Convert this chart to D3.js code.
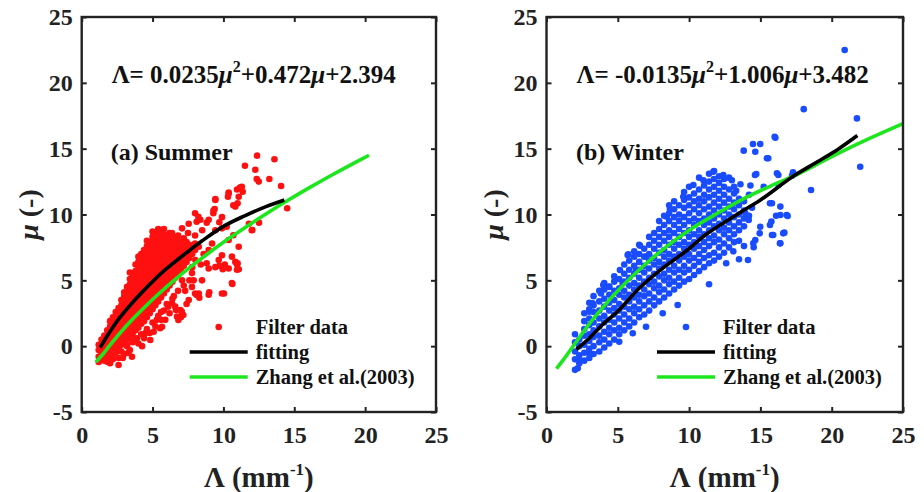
<!DOCTYPE html>
<html><head><meta charset="utf-8">
<script src="https://cdn.jsdelivr.net/npm/d3@7"></script>
<style>body{margin:0;background:#fff}svg{display:block} text{font-family:"Liberation Serif","Times New Roman",serif;}</style>
</head><body><svg id="c" width="924" height="492"></svg>
<script>
// ---------- data ----------
const xTicks = [0, 5, 10, 15, 20, 25];
const yTicks = [-5, 0, 5, 10, 15, 20, 25];
const legendLabels = ["Filter data", "fitting", "Zhang et al.(2003)"];

// Summer: dense cloud, column by column [Λ, [μ ...]]
const summerCloud = [
[1.2,[-1.2,-0.8,-0.3,0.1]],
[1.4,[-1.0,-0.5,0.0,0.5]],
[1.6,[-1.1,-0.7,-0.2,0.3,0.8]],
[1.8,[-0.9,-0.4,0.1,0.6,1.2]],
[2.0,[-1.3,-0.6,-0.1,0.4,0.9,1.5,1.9]],
[2.2,[-0.8,-0.3,0.2,0.7,1.2,1.7,2.2]],
[2.4,[-0.5,0.0,0.5,1.0,1.5,2.0,2.6]],
[2.6,[-0.9,-0.2,0.3,0.8,1.3,1.8,2.3,2.9]],
[2.8,[-0.4,0.1,0.6,1.1,1.6,2.1,2.6,3.1,3.5]],
[3.0,[-0.6,0.3,0.8,1.3,1.8,2.3,2.8,3.3,3.8,4.1]],
[3.2,[0.0,0.5,1.0,1.5,2.0,2.5,3.0,3.5,4.0,4.5]],
[3.4,[-0.3,0.7,1.2,1.7,2.2,2.7,3.2,3.7,4.2,4.7,5.1]],
[3.6,[0.3,1.0,1.5,2.0,2.5,3.0,3.5,4.0,4.5,5.0,5.5]],
[3.8,[0.6,1.2,1.7,2.2,2.7,3.2,3.7,4.2,4.7,5.2,5.7,6.2]],
[4.0,[0.2,1.4,1.9,2.4,2.9,3.4,3.9,4.4,4.9,5.4,5.9,6.4]],
[4.2,[0.9,1.7,2.2,2.7,3.2,3.7,4.2,4.7,5.2,5.7,6.2,6.7,7.0]],
[4.4,[0.6,1.9,2.4,2.9,3.4,3.9,4.4,4.9,5.4,5.9,6.4,6.9,7.3]],
[4.6,[1.3,2.2,2.7,3.2,3.7,4.2,4.7,5.2,5.7,6.2,6.7,7.2,7.6]],
[4.8,[1.0,2.5,3.0,3.5,4.0,4.5,5.0,5.5,6.0,6.5,7.0,7.5,7.9]],
[5.0,[1.8,2.8,3.3,3.8,4.3,4.8,5.3,5.8,6.3,6.8,7.3,7.8,8.3]],
[5.2,[1.5,3.1,3.6,4.1,4.6,5.1,5.6,6.1,6.6,7.1,7.6,8.1,8.6]],
[5.4,[2.3,3.4,3.9,4.4,4.9,5.4,5.9,6.4,6.9,7.4,7.9,8.4,8.9]],
[5.6,[2.0,3.7,4.2,4.7,5.2,5.7,6.2,6.7,7.2,7.7,8.2,8.7]],
[5.8,[2.7,4.0,4.5,5.0,5.5,6.0,6.5,7.0,7.5,8.0,8.5,8.9]],
[6.0,[3.2,4.3,4.8,5.3,5.8,6.3,6.8,7.3,7.8,8.3]],
[6.2,[2.5,4.6,5.1,5.6,6.1,6.6,7.1,7.6,8.1,8.6]],
[6.4,[3.6,4.9,5.4,5.9,6.4,6.9,7.4,7.9,8.3]],
[6.6,[3.0,5.2,5.7,6.2,6.7,7.2,7.7,8.1]],
[6.8,[4.2,5.5,6.0,6.5,7.0,7.5,8.0]],
[7.0,[2.2,5.8,6.3,6.8,7.3,7.8]],
[7.2,[4.6,6.1,6.6,7.1,7.6,8.2]],
[7.4,[3.2,6.4,6.9,7.4,7.9]],
[7.6,[5.0,6.7,7.2,7.7]],
[7.8,[6.0,7.0,7.5]],
[8.0,[4.0,7.3,7.8]]
];
// Summer: scattered points [Λ, μ]
const summerScatter = [
[1.79,-1.18],[2.6,-1.43],[3.55,-0.8],[3.2,0.1],[4.26,0.0],[4.84,0.47],[5.08,1.1],[5.67,1.48],[5.9,2.0],
[6.73,2.24],[6.96,2.75],[6.37,3.26],[7.55,3.5],[8.26,4.0],[8.96,3.9],[9.9,4.0],[10.6,4.8],[7.78,4.5],
[8.49,5.0],[9.43,6.0],[10.1,6.2],[10.37,5.9],[10.96,5.8],[10.84,6.4],[8.96,5.9],[9.67,6.55],[7.78,5.55],
[7.08,5.0],[8.0,10.1],[8.37,9.6],[9.43,11.1],[9.3,10.3],[10.37,11.6],[10.96,11.9],[11.3,12.1],[10.7,10.7],
[9.9,9.8],[8.96,9.6],[7.55,9.3],[7.08,8.95],[6.37,8.6],[8.5,8.8],[9.43,8.8],[9.9,8.95],[12.0,8.8],
[11.8,9.3],[10.37,8.06],[11.08,7.55],[8.26,7.55],[8.96,7.3],[9.9,6.9],[10.6,6.8],[10.96,6.2],[8.02,6.55],
[12.37,14.47],[13.6,14.2],[11.52,13.7],[12.25,13.4],[12.35,12.7],[12.49,12.5],[13.24,12.7],[14.07,12.16],
[14.5,10.47],[11.17,12.04],[11.36,11.73],[11.08,11.35],[11.0,10.85],[10.84,10.6],[10.37,11.66],[10.32,11.35],
[9.43,11.18],[9.38,10.42],[9.29,10.09],[8.23,9.83],[8.11,9.45],[8.82,9.38],[9.71,9.41],[10.23,9.07],
[10.7,8.42],[12.04,8.82],[12.51,9.38],[11.0,6.3],[11.08,5.84],[10.63,4.72],[10.04,4.0],[9.0,4.09],
[9.71,6.11],[9.95,5.84],[8.82,6.3],[8.11,3.89],[8.3,3.68],[6.82,1.99],[7.17,2.37],[7.06,2.62],[6.65,2.75],
[5.53,1.36],[2.2,-1.0],[2.9,-0.9],[3.3,-0.5],[3.9,0.6],[4.5,1.0],[5.3,2.0],[5.6,2.6],[6.1,3.0],[6.5,3.8],
[7.3,4.2],[7.9,5.0],[8.4,6.2],[8.6,7.0],[9.2,7.8],[7.5,8.6],[8.0,8.4],[6.8,8.4],[5.0,8.7],[4.6,8.0],
[4.0,6.8],[3.4,5.6]
];
// Summer fitting curve (Λ, μ)
const summerFitL  = [1.3, 2.5, 3.7, 5.0, 6.0, 7.4, 8.5, 10.0, 11.5, 13.0, 14.3];
const summerFitMu = [-0.1, 1.9, 3.45, 4.9, 5.9, 7.1, 8.0, 9.1, 9.9, 10.6, 11.1];
// Summer Zhang et al. (2003) curve
const summerZhL  = [1.0, 1.58, 1.94, 2.71, 3.55, 4.47, 5.46, 6.52, 7.66, 8.87, 10.15, 11.51, 12.94, 14.44, 16.01, 17.66, 19.38, 20.27];
const summerZhMu = [-1.2, -0.5, 0, 1, 2, 3, 4, 5, 6, 7, 8, 9, 10, 11, 12, 13, 14, 14.5];

// Winter: dense cloud columns
const winterCloud = [
[2.0,[-1.8,-1.0,-0.4,0.3,0.9]],
[2.3,[-1.3,-0.7,0.0,0.5]],
[2.65,[-1.1,-0.5,0.1,0.8,1.3,1.9,2.5]],
[3.0,[-0.9,-0.2,0.4,0.9,1.6,2.1,2.8,3.3]],
[3.3,[-0.6,0.0,0.7,1.2,1.8,2.6,3.1,3.8]],
[3.7,[-0.4,0.3,0.8,1.5,2.1,2.7,3.4,4.2]],
[4.05,[-0.1,0.5,1.1,1.8,2.3,3.0,3.6,4.3,4.8]],
[4.4,[0.2,0.9,1.4,2.0,2.7,3.3,3.9,4.5]],
[4.75,[0.5,1.2,1.8,2.4,2.9,3.5,4.2,4.9,5.3]],
[5.1,[0.9,1.4,2.1,2.7,3.2,3.9,4.4,5.1]],
[5.45,[1.2,1.8,2.4,3.0,3.7,4.2,4.9,5.5,6.2]],
[5.8,[1.5,2.1,2.8,3.4,3.9,4.6,5.2,5.8,6.5]],
[6.15,[1.8,2.5,3.0,3.7,4.3,4.8,5.5,6.1,6.8,7.2]],
[6.5,[2.2,2.8,3.4,3.9,4.6,5.2,5.8,6.4,7.0,7.7]],
[6.85,[2.4,3.1,3.8,4.3,4.9,5.6,6.1,6.8,7.4]],
[7.2,[2.7,3.4,4.0,4.7,5.2,5.9,6.5,7.0,7.7,8.3]],
[7.55,[3.1,3.7,4.4,4.9,5.5,6.2,6.7,7.4,8.0,8.6]],
[7.9,[3.4,4.1,4.6,5.3,5.9,6.4,7.1,7.7,8.3,8.9,9.5]],
[8.25,[3.7,4.3,5.0,5.5,6.2,6.8,7.3,8.0,8.6,9.2,9.9]],
[8.6,[4.0,4.7,5.2,5.8,6.5,7.0,7.7,8.3,8.8,9.5,10.1,10.7]],
[8.95,[4.3,4.9,5.6,6.1,6.8,7.4,7.9,8.6,9.2,9.8,10.4,11.0]],
[9.3,[4.6,5.2,5.8,6.5,7.0,7.7,8.3,8.9,9.5,10.0,10.7]],
[9.65,[4.9,5.6,6.1,6.8,7.4,7.9,8.6,9.2,9.8,10.5,11.1,11.7]],
[10.0,[5.1,5.8,6.5,7.0,7.7,8.3,8.8,9.5,10.1,10.7,11.3,12.1]],
[10.35,[5.4,6.1,6.7,7.4,7.9,8.5,9.2,9.7,10.4,11.0,11.6]],
[10.7,[5.7,6.4,7.0,7.6,8.3,8.8,9.5,10.1,10.7,11.2,11.9,12.8]],
[11.05,[6.0,6.7,7.3,7.9,8.5,9.2,9.7,10.4,11.0,11.5,12.2]],
[11.4,[4.7,6.3,6.9,7.6,8.2,8.8,9.4,10.0,10.6,11.3,11.9,12.5,13.1]],
[11.75,[6.5,7.1,7.9,8.4,9.1,9.7,10.3,10.9,11.5,12.1,12.7,13.3]],
[12.1,[6.8,7.5,8.1,8.8,9.3,10.0,10.6,11.2,11.8,12.4,12.9]],
[12.45,[7.1,7.8,8.5,9.0,9.7,10.3,10.9,11.5,12.1,12.7]],
[12.8,[7.5,8.2,8.8,9.4,10.0,10.6,11.2,11.9,12.8]],
[13.15,[7.9,8.5,9.1,9.8,10.4,10.9,11.6,12.1]],
[13.5,[6.6,8.8,9.4,10.0,10.7,11.2]],
[13.85,[7.6,9.1,9.7,10.3,11.0]]
];
const winterScatter = [
[20.91,22.49],[18.04,18.0],[21.77,17.3],[22.0,13.63],[18.55,11.86],[17.29,13.2],[17.22,12.95],[16.16,13.13],
[16.05,15.83],[15.46,14.27],[13.83,14.85],[14.48,15.35],[14.99,15.35],[14.64,14.77],[14.71,13.07],[15.23,12.11],
[16.28,12.24],[15.81,10.85],[16.4,10.6],[15.77,9.46],[16.4,9.96],[16.91,9.89],[15.81,8.44],[16.68,8.62],
[16.4,7.81],[14.95,8.57],[14.99,9.07],[14.64,8.06],[14.53,7.51],[14.13,6.54],[14.18,9.58],[13.94,10.09],
[14.41,10.52],[3.98,4.65],[5.15,5.79],[6.56,7.63],[8.43,9.83],[8.66,10.4],[9.59,11.35],[10.3,12.24],
[11.0,12.6],[11.7,13.25],[12.4,13.0],[13.0,12.6],[15.55,14.27],[14.62,13.0],[16.0,15.9],[16.26,13.0],
[15.67,10.85],[16.1,9.9],[16.84,9.96],[15.67,9.2],[15.9,8.44],[16.6,8.57],[16.37,7.81],[14.5,7.81],
[2.19,-1.68],[2.3,-1.05],[3.0,-0.54],[5.1,0.34],[6.05,0.98],[6.98,1.48],[8.15,2.5],[9.2,3.13],[3.0,2.62],
[3.24,3.26],[3.82,4.0],[4.4,4.52],[5.34,4.78],[5.69,6.92],[6.28,5.79],[6.98,6.8],[5.74,6.98],
[13.3,11.8],[13.6,12.3],[14.2,11.5],[14.3,12.2],[13.1,7.2],[12.6,6.3],[13.5,8.0],[14.2,9.9]
];
const winterFitL  = [2.1, 3.0, 4.0, 5.0, 6.5, 8.0, 10.0, 11.2, 13.5, 15.0, 17.3, 19.0, 20.5, 21.8];
const winterFitMu = [-0.25, 0.6, 1.7, 2.65, 4.4, 5.8, 7.4, 8.5, 10.1, 11.1, 12.9, 14.0, 15.0, 16.0];
const winterZhL  = [0.7, 1.2, 2.0, 3.0, 4.0, 5.0, 6.5, 8.0, 10.0, 12.0, 14.0, 16.0, 17.5, 20.0, 22.5, 25.0];
const winterZhMu = [-1.7, -1.0, 0.2, 1.7, 3.0, 4.2, 5.8, 7.2, 8.8, 10.1, 11.3, 12.3, 13.0, 14.4, 15.7, 16.9];

// ---------- drawing ----------
const FONT = '"Liberation Serif", "Times New Roman", serif';
const svg = d3.select("#c");

function txt(sel, size, weight) {
  return sel.style("font-family", FONT).style("font-weight", weight || "bold")
    .style("font-size", size + "px").attr("fill", "#111");
}

function panel(o) {
  const x = d3.scaleLinear().domain([0, 25]).range([o.left, o.right]);
  const y = d3.scaleLinear().domain([-5, 25]).range([412, 17]);
  const g = svg.append("g");

  const pts = [];
  o.cloud.forEach(c => c[1].forEach(m => pts.push([c[0], m])));
  o.scatter.forEach(p => pts.push(p));
  g.append("g").selectAll("circle").data(pts).join("circle")
    .attr("cx", d => x(d[0])).attr("cy", d => y(d[1])).attr("r", 3.3)
    .attr("fill", o.color);

  const line = d3.line().x(d => x(d[0])).y(d => y(d[1])).curve(d3.curveCatmullRom.alpha(0.5));
  g.append("path").datum(o.zhL.map((v, i) => [v, o.zhMu[i]]))
    .attr("d", line).attr("fill", "none").attr("stroke", "#1ee61e").attr("stroke-width", 3.6);
  g.append("path").datum(o.fitL.map((v, i) => [v, o.fitMu[i]]))
    .attr("d", line).attr("fill", "none").attr("stroke", "#000").attr("stroke-width", 3.6);

  const ax = (gen, tr, lab) => {
    const a = g.append("g").attr("transform", tr).call(gen.tickFormat(d => String(d)));
    a.select(".domain").remove();
    a.selectAll(".tick line").attr("stroke", "#222").attr("stroke-width", 2);
    txt(a.selectAll("text"), 24).attr("fill", "#222");
    if (!lab) a.selectAll("text").remove();
    return a;
  };
  ax(d3.axisBottom(x).tickValues(xTicks).tickSizeInner(-5).tickSizeOuter(0).tickPadding(14), "translate(0,412)", true);
  ax(d3.axisTop(x).tickValues(xTicks).tickSizeInner(-5).tickSizeOuter(0), "translate(0,17)", false);
  ax(d3.axisLeft(y).tickValues(yTicks).tickSizeInner(-5).tickSizeOuter(0).tickPadding(9), `translate(${o.left},0)`, true);
  ax(d3.axisRight(y).tickValues(yTicks).tickSizeInner(-5).tickSizeOuter(0), `translate(${o.right},0)`, false);

  g.append("rect").attr("x", o.left).attr("y", 17).attr("width", o.right - o.left).attr("height", 395)
    .attr("fill", "none").attr("stroke", "#222").attr("stroke-width", 2.4);

  const cx = (o.left + o.right) / 2;
  const xl = txt(g.append("text").attr("x", cx).attr("y", 487).attr("text-anchor", "middle"), 29).attr("fill", "#222");
  xl.append("tspan").text("Λ (mm");
  xl.append("tspan").style("font-size", "17px").attr("dy", -12).text("-1");
  xl.append("tspan").attr("dy", 12).text(")");

  const yl = txt(g.append("text").attr("transform", `translate(${o.left - 44},214.5) rotate(-90)`)
    .attr("text-anchor", "middle"), 28).attr("fill", "#222");
  yl.append("tspan").style("font-style", "italic").text("μ");
  yl.append("tspan").text(" (-)");

  const eq = txt(g.append("text").attr("x", o.left + o.eqDx).attr("y", 83), 25);
  eq.append("tspan").text(o.eq[0]);
  eq.append("tspan").style("font-style", "italic").text("μ");
  eq.append("tspan").style("font-size", "16px").attr("dy", -11).text("2");
  eq.append("tspan").attr("dy", 11).text(o.eq[1]);
  eq.append("tspan").style("font-style", "italic").text("μ");
  eq.append("tspan").text(o.eq[2]);

  txt(g.append("text").attr("x", o.left + o.titleDx).attr("y", 160).text(o.title), 24);

  const lx = o.left + o.legDx;
  g.append("circle").attr("cx", lx + 29).attr("cy", 327).attr("r", 3.3).attr("fill", o.color);
  g.append("line").attr("x1", lx).attr("x2", lx + 58).attr("y1", 352).attr("y2", 352)
    .attr("stroke", "#000").attr("stroke-width", 3.6);
  g.append("line").attr("x1", lx).attr("x2", lx + 58).attr("y1", 377).attr("y2", 377)
    .attr("stroke", "#1ee61e").attr("stroke-width", 3.6);
  [334, 359, 384].forEach((yy, i) => {
    txt(g.append("text").attr("x", lx + 66).attr("y", yy).text(legendLabels[i]), 20.5);
  });
}

panel({left: 81.7, right: 436, color: "#ff1010", cloud: summerCloud, scatter: summerScatter,
  fitL: summerFitL, fitMu: summerFitMu, zhL: summerZhL, zhMu: summerZhMu,
  eq: ["Λ= 0.0235", "+0.472", "+2.394"], eqDx: 30, title: "(a) Summer", titleDx: 29, legDx: 108});
panel({left: 546.5, right: 903, color: "#1a4cff", cloud: winterCloud, scatter: winterScatter,
  fitL: winterFitL, fitMu: winterFitMu, zhL: winterZhL, zhMu: winterZhMu,
  eq: ["Λ= -0.0135", "+1.006", "+3.482"], eqDx: 30, title: "(b) Winter", titleDx: 29.5, legDx: 110.5});
</script></body></html>
